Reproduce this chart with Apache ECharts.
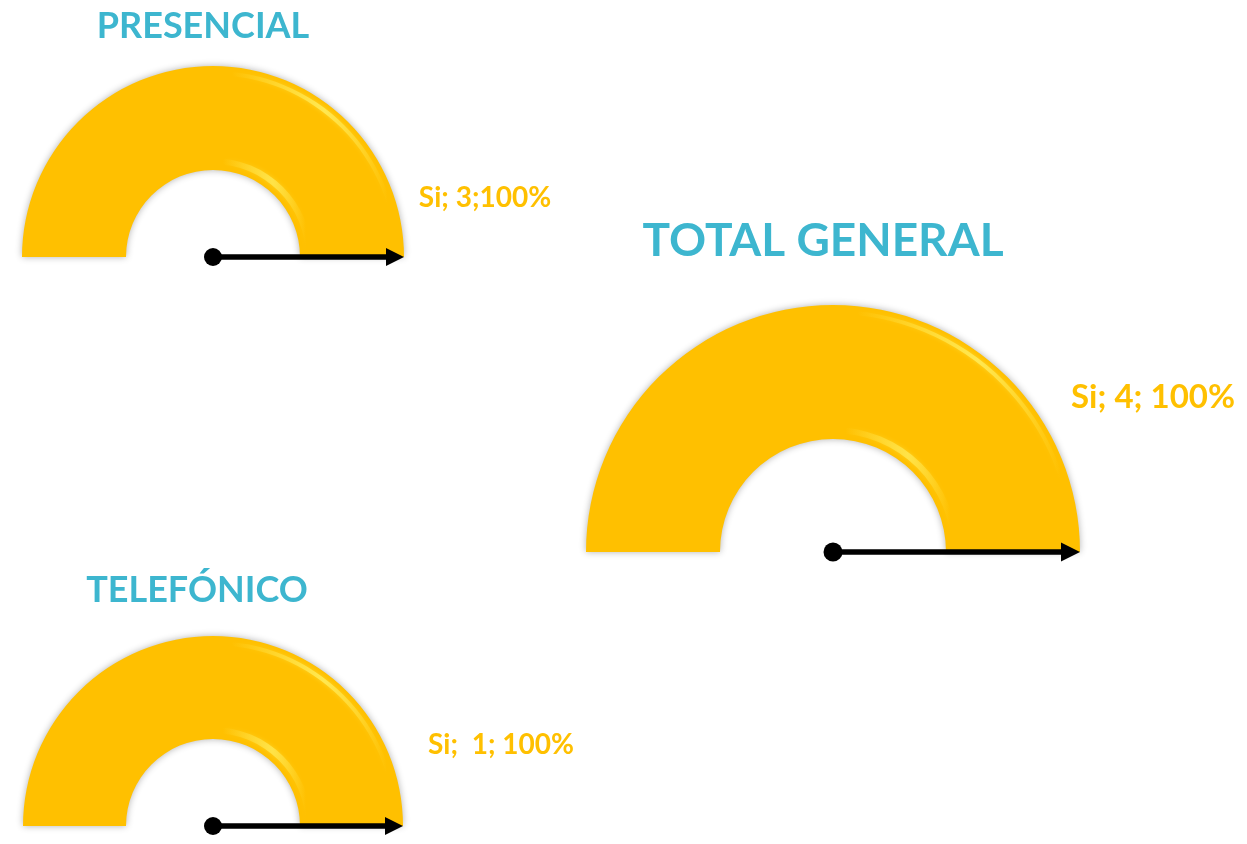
<!DOCTYPE html>
<html>
<head>
<meta charset="utf-8">
<style>
  html, body { margin: 0; padding: 0; background: #ffffff; }
  #chart { width: 1247px; height: 844px; }
</style>
<script src="https://cdn.jsdelivr.net/npm/echarts@6/dist/echarts.min.js"></script>
</head>
<body>
<div id="chart"></div>
<script>
// Gauge data: one half-donut per channel
const gaugeNames   = ['PRESENCIAL', 'TELEFÓNICO', 'TOTAL GENERAL'];
const answerLabel  = ['Si', 'Si', 'Si'];
const answerCounts = [3, 1, 4];
const answerPct    = [100, 100, 100];
const labelTemplates = ['{a}; {n};{p}%', '{a};  {n}; {p}%', '{a}; {n}; {p}%'];

// Layout per gauge (centre, radii, text offsets, needle size)
const layouts = [
  { center: [213, 257], outer: 191, inner: 87,  titleSize: 36, titleOff: [-10, -231], labelSize: 28, labelOff: [272, -59],  head: 18, dot: 18 },
  { center: [213, 826], outer: 190, inner: 87,  titleSize: 36, titleOff: [-16, -236], labelSize: 28, labelOff: [288, -81],  head: 18, dot: 18 },
  { center: [833, 552], outer: 247, inner: 113, titleSize: 46, titleOff: [-10, -311], labelSize: 33, labelOff: [320, -155], head: 19, dot: 19 }
];

const GOLD = '#FFC000';
const TEAL = '#3DB6CF';
const FONT = 'Lato, "Open Sans", sans-serif';

function arrowPath(len, head) {
  // arrow pointing up: head at top, shaft down to the pivot
  const h = head, m = head / 2, s = 2.75;
  return 'path://M' + m + ',0 L' + h + ',' + h + ' L' + (m + s) + ',' + h +
    ' L' + (m + s) + ',' + len + ' L' + (m - s) + ',' + len +
    ' L' + (m - s) + ',' + h + ' L0,' + h + ' Z';
}

// soft light band running across the upper-right part of a ring
function sheen(alpha) {
  return new echarts.graphic.LinearGradient(0, 0, 1, 0, [
    { offset: 0.00, color: 'rgba(255,236,90,0)' },
    { offset: 0.55, color: 'rgba(255,236,90,0)' },
    { offset: 0.80, color: 'rgba(255,236,90,' + alpha + ')' },
    { offset: 0.97, color: 'rgba(255,236,90,0)' },
    { offset: 1.00, color: 'rgba(255,236,90,0)' }
  ]);
}

const hidden = {
  splitLine: { show: false },
  axisTick: { show: false },
  axisLabel: { show: false },
  title: { show: false },
  detail: { show: false }
};

const series = [];
layouts.forEach((L, i) => {
  const ringWidth = L.outer - L.inner;
  const text = labelTemplates[i]
    .replace('{a}', answerLabel[i])
    .replace('{n}', answerCounts[i])
    .replace('{p}', answerPct[i]);

  // the filled half ring, with title and value label
  series.push({
    type: 'gauge',
    z: 2,
    center: L.center,
    radius: L.outer,
    startAngle: 180,
    endAngle: 0,
    min: 0,
    max: 100,
    axisLine: { show: true, lineStyle: { width: ringWidth, color: [[1, 'rgba(0,0,0,0)']] } },
    progress: {
      show: true,
      width: ringWidth,
      roundCap: false,
      itemStyle: { color: GOLD, shadowBlur: 7, shadowColor: 'rgba(0,0,0,0.30)' }
    },
    splitLine: { show: false },
    axisTick: { show: false },
    axisLabel: { show: false },
    pointer: { show: false },
    anchor: { show: false },
    title: {
      show: true,
      offsetCenter: L.titleOff,
      color: TEAL,
      fontSize: L.titleSize,
      fontWeight: 'bold',
      fontFamily: FONT
    },
    detail: {
      show: true,
      offsetCenter: L.labelOff,
      color: GOLD,
      fontSize: L.labelSize,
      fontWeight: 'bold',
      fontFamily: FONT,
      formatter: () => text
    },
    silent: true,
    animation: false,
    data: [{ value: answerPct[i], name: gaugeNames[i] }]
  });

  // bevel highlights near the outer and inner edges
  [[L.outer - 5, 4, 0.85], [L.inner + 12, 6, 0.7]].forEach(([r, w, a]) => {
    series.push(Object.assign({
      type: 'gauge',
      z: 3,
      center: L.center,
      radius: r,
      startAngle: 180,
      endAngle: 0,
      axisLine: { show: true, lineStyle: { width: w, color: [[1, sheen(a)]], shadowBlur: 4, shadowColor: 'rgba(255,236,90,0.6)' } },
      progress: { show: false },
      pointer: { show: false },
      anchor: { show: false },
      silent: true,
      animation: false,
      data: []
    }, hidden));
  });

  // needle and pivot drawn on top of the ring
  series.push(Object.assign({
    type: 'gauge',
    z: 5,
    center: L.center,
    radius: L.outer,
    startAngle: 180,
    endAngle: 0,
    min: 0,
    max: 100,
    axisLine: { show: false },
    progress: { show: false },
    pointer: {
      show: true,
      icon: arrowPath(L.outer, L.head),
      length: '100%',
      width: L.head,
      offsetCenter: [0, 0],
      itemStyle: { color: '#000000' }
    },
    anchor: {
      show: true,
      showAbove: true,
      size: L.dot,
      icon: 'circle',
      itemStyle: { color: '#000000' }
    },
    silent: true,
    animation: false,
    data: [{ value: answerPct[i], name: gaugeNames[i] }]
  }, hidden));
});

const chart = echarts.init(document.getElementById('chart'), null, { renderer: 'canvas' });
chart.setOption({
  backgroundColor: '#ffffff',
  animation: false,
  series: series
});
</script>
</body>
</html>
